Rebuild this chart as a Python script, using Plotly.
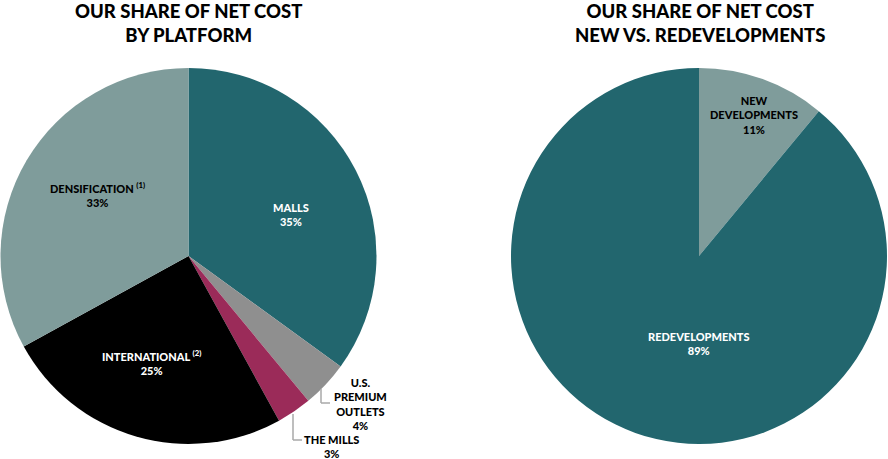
import plotly.graph_objects as go

# Left pie: share of net cost by platform
platform_labels = ["MALLS", "U.S. PREMIUM OUTLETS", "THE MILLS", "INTERNATIONAL", "DENSIFICATION"]
platform_values = [35, 4, 3, 25, 33]
platform_colors = ["#22666e", "#8f8f8f", "#9b2b59", "#000000", "#7f9c9b"]

# Right pie: new vs redevelopments
dev_labels = ["NEW DEVELOPMENTS", "REDEVELOPMENTS"]
dev_values = [11, 89]
dev_colors = ["#7f9c9b", "#22666e"]

W, H = 888, 459
FONT = "Lato"

def px(x):
    return x / W

def py(y):
    return 1 - y / H

fig = go.Figure()
fig.add_trace(go.Pie(
    labels=platform_labels, values=platform_values, sort=False,
    direction="clockwise", rotation=0, textinfo="none", hoverinfo="label+percent",
    marker=dict(colors=platform_colors, line=dict(width=0)),
    domain=dict(x=[px(0), px(377)], y=[py(444), py(68)]),
    showlegend=False,
))
fig.add_trace(go.Pie(
    labels=dev_labels, values=dev_values, sort=False,
    direction="clockwise", rotation=0, textinfo="none", hoverinfo="label+percent",
    marker=dict(colors=dev_colors, line=dict(width=0)),
    domain=dict(x=[px(511), px(887)], y=[py(444), py(68)]),
    showlegend=False,
))

annotations = []

def ann(text, x, y, color="#000000", size=11):
    annotations.append(dict(
        text=text, x=px(x), y=py(y), xref="paper", yref="paper",
        showarrow=False, xanchor="center", yanchor="middle", align="center",
        font=dict(family=FONT, size=size, color=color, weight=900),
    ))

# Titles
ann("OUR SHARE OF NET COST<br>BY PLATFORM", 188, 23, size=18.5)
ann("OUR SHARE OF NET COST<br>NEW VS. REDEVELOPMENTS", 700, 23, size=18.5)

# Left pie labels
ann(f"{platform_labels[0]}<br>{platform_values[0]}%", 291, 215, color="#ffffff")
ann(f"DENSIFICATION <sup>(1)</sup><br>{platform_values[4]}%", 97, 194)
ann(f"INTERNATIONAL <sup>(2)</sup><br>{platform_values[3]}%", 151, 362, color="#ffffff")
ann(f"U.S.<br>PREMIUM<br>OUTLETS<br>{platform_values[1]}%", 360, 404)
ann(f"{platform_labels[2]}<br>{platform_values[2]}%", 331, 446)

# Right pie labels
ann(f"NEW<br>DEVELOPMENTS<br>{dev_values[0]}%", 754, 115)
ann(f"{dev_labels[1]}<br>{dev_values[1]}%", 699, 343, color="#ffffff")

shapes = []
lc = dict(color="#a8a8a8", width=1.5)
def seg(x0, y0, x1, y1):
    shapes.append(dict(type="line", xref="paper", yref="paper",
                       x0=px(x0), y0=py(y0), x1=px(x1), y1=py(y1), line=lc))

# Leader lines
seg(321, 389, 321, 403)
seg(321, 403, 330, 403)
seg(293, 414, 293, 440)
seg(293, 440, 302, 440)

fig.update_layout(
    width=W, height=H,
    margin=dict(l=0, r=0, t=0, b=0),
    paper_bgcolor="#ffffff", plot_bgcolor="#ffffff",
    annotations=annotations, shapes=shapes,
    font=dict(family=FONT),
)

fig.write_html("out.html", config={"displayModeBar": False})
